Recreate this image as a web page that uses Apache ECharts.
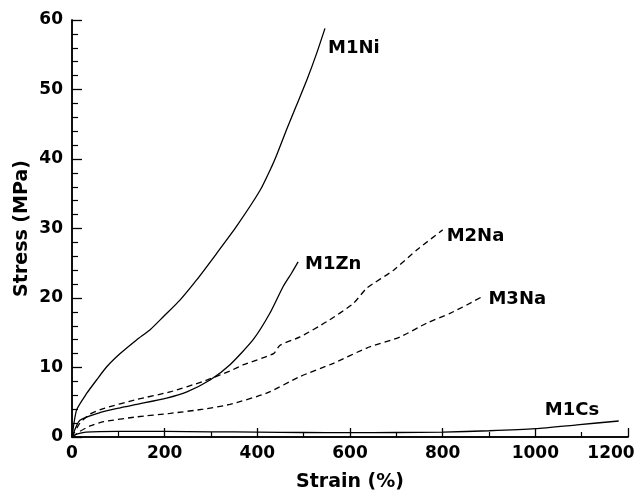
<!DOCTYPE html>
<html><head><meta charset="utf-8">
<script src="https://cdn.jsdelivr.net/npm/echarts@6/dist/echarts.min.js"></script>
<style>html,body{margin:0;padding:0;background:#fff}#c{width:641px;height:491px}</style>
</head><body><div id="c"></div>
<script>
const xTicks = [0, 200, 400, 600, 800, 1000, 1200];
const yTicks = [0, 10, 20, 30, 40, 50, 60];
const seriesNames = ['M1Ni', 'M1Zn', 'M2Na', 'M3Na', 'M1Cs'];
const M1Ni = [[0,0],[10,3.9],[32,6.3],[53,8.2],[75,10.1],[104,12.0],[140,14.0],[168,15.4],[197,17.3],[233,19.7],[269,22.6],[312,26.4],[355,30.3],[406,35.5],[431,38.9],[442,40.6],[463,44.2],[485,47.8],[507,51.4],[528,55.2],[546,58.8]];
const M1Zn = [[0,0],[17,2.4],[60,3.5],[104,4.2],[140,4.7],[204,5.6],[248,6.5],[298,8.2],[341,10.4],[391,14.0],[427,17.8],[456,21.7],[474,23.6],[488,25.2]];
const M2Na = [[0,0],[17,2.0],[39,3.3],[68,4.1],[140,5.4],[212,6.5],[283,8.0],[341,9.5],[370,10.4],[435,12.0],[449,13.2],[492,14.4],[550,16.6],[607,19.2],[636,21.4],[694,24.0],[744,26.9],[800,29.8]];
const M3Na = [[0,0],[17,0.8],[39,1.6],[68,2.2],[140,2.9],[212,3.4],[283,4.0],[341,4.7],[420,6.3],[492,8.7],[564,10.6],[636,12.8],[708,14.4],[766,16.4],[816,17.8],[852,19.0],[888,20.3]];
const M1Cs = [[0,0],[10,0.4],[30,0.7],[100,0.8],[200,0.8],[300,0.75],[400,0.7],[500,0.65],[600,0.62],[700,0.65],[800,0.7],[900,0.9],[1000,1.2],[1090,1.75],[1180,2.3]];

const font = 'DejaVu Sans';
const chart = echarts.init(document.getElementById('c'));
const labelOffsets = {M1Ni:[0,20], M1Zn:[4,2], M2Na:[1,6], M3Na:[2,3], M1Cs:[-77,-11]};
function mk(name, data, dashed) {
  return {
    name, type:'line', data, symbol:'none', smooth:0.2,
    lineStyle:{color:'#000', width:1.3, type: dashed ? [6,4] : 'solid'},
    endLabel:{show:true, formatter:name, color:'#000', fontFamily:font, fontWeight:'bold', fontSize:18, distance:3, offset:labelOffsets[name]},
    xAxisIndex:0, yAxisIndex:0, z:3
  };
}
const xMax = xTicks[xTicks.length - 1];
chart.setOption({
  animation:false,
  backgroundColor:'#fff',
  grid:{left:72, top:20, right:13, bottom:54, containLabel:false, outerBoundsMode:'none'},
  xAxis:[{
    type:'value', min:xTicks[0], max:xMax, interval:200,
    name:'Strain (%)', nameLocation:'middle', nameGap:36, nameMoveOverlap:false,
    nameTextStyle:{fontFamily:font, fontWeight:'bold', fontSize:19, color:'#000'},
    axisLine:{onZero:false, lineStyle:{color:'#000', width:1.5}},
    axisTick:{inside:true, length:9, lineStyle:{color:'#000', width:1.3}},
    minorTick:{show:true, splitNumber:2, length:5, lineStyle:{color:'#000', width:1.2}},
    axisLabel:{fontFamily:font, fontWeight:'bold', fontSize:17, color:'#000', margin:8,
      formatter:v => v === xMax ? '{r|' + v + '}' : String(v),
      rich:{r:{fontFamily:font, fontWeight:'bold', fontSize:17, color:'#000', padding:[0,34,0,0]}}},
    splitLine:{show:false}
  },{
    type:'value', position:'top', min:0, max:xMax,
    axisLine:{lineStyle:{color:'#000', width:1.5}},
    axisTick:{show:false}, axisLabel:{show:false}, splitLine:{show:false}
  }],
  yAxis:[{
    type:'value', min:yTicks[0], max:yTicks[yTicks.length-1], interval:10,
    name:'Stress (MPa)', nameLocation:'middle', nameGap:40, nameRotate:90, nameMoveOverlap:false,
    nameTextStyle:{fontFamily:font, fontWeight:'bold', fontSize:19, color:'#000'},
    axisLine:{onZero:false, lineStyle:{color:'#000', width:1.5}},
    axisTick:{inside:true, length:10, lineStyle:{color:'#000', width:1.3}},
    minorTick:{show:true, splitNumber:5, length:6, lineStyle:{color:'#000', width:1.2}},
    axisLabel:{fontFamily:font, fontWeight:'bold', fontSize:17, color:'#000', margin:9, formatter:v=>String(v)},
    splitLine:{show:false}
  },{
    type:'value', position:'right', min:0, max:60,
    axisLine:{show:true, lineStyle:{color:'#000', width:1.5}},
    axisTick:{show:false}, axisLabel:{show:false}, splitLine:{show:false}
  }],
  series:[
    mk('M1Ni', M1Ni, false),
    mk('M1Zn', M1Zn, false),
    mk('M2Na', M2Na, true),
    mk('M3Na', M3Na, true),
    mk('M1Cs', M1Cs, false)
  ]
});
</script></body></html>
